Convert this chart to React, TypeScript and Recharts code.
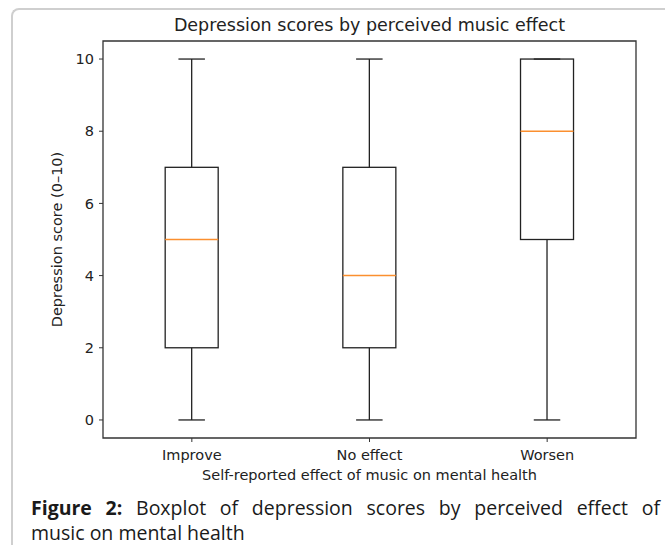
import React from "react";
import {
  ComposedChart,
  Bar,
  XAxis,
  YAxis,
  ReferenceArea,
} from "recharts";

const categories = ["Improve", "No effect", "Worsen"];
const whiskerLow = [0, 0, 0];
const quartile1 = [2, 2, 5];
const medians = [5, 4, 8];
const quartile3 = [7, 7, 10];
const whiskerHigh = [10, 10, 10];
const yTicks = [0, 2, 4, 6, 8, 10];

const data = categories.map((name, i) => ({
  name,
  min: whiskerLow[i],
  q1: quartile1[i],
  median: medians[i],
  q3: quartile3[i],
  max: whiskerHigh[i],
}));

const FONT = "'DejaVu Sans', sans-serif";
const INK = "#222";
const MEDIAN = "#fb8f2f";
const AXIS_FS = 14.5;

// draws one box + whiskers inside the bar slot (bar spans min..max)
const BoxShape = (props: any) => {
  const { x, y, width, height, payload } = props;
  const { min, q1, median, q3, max } = payload;
  const perUnit = height / (max - min);
  const py = (v: number) => y + (max - v) * perUnit;
  const cx = x + width / 2;
  const capHalf = width / 4;
  return (
    <g>
      <line x1={cx} x2={cx} y1={py(max)} y2={py(q3)} stroke={INK} strokeWidth={1.3} />
      <line x1={cx} x2={cx} y1={py(q1)} y2={py(min)} stroke={INK} strokeWidth={1.3} />
      <line x1={cx - capHalf} x2={cx + capHalf} y1={py(max)} y2={py(max)} stroke={INK} strokeWidth={1.3} />
      <line x1={cx - capHalf} x2={cx + capHalf} y1={py(min)} y2={py(min)} stroke={INK} strokeWidth={1.3} />
      <rect
        x={x}
        y={py(q3)}
        width={width}
        height={py(q1) - py(q3)}
        fill="none"
        stroke={INK}
        strokeWidth={1.3}
      />
      <line x1={x} x2={x + width} y1={py(median)} y2={py(median)} stroke={MEDIAN} strokeWidth={1.5} />
    </g>
  );
};

const captionFont: React.CSSProperties = {
  fontFamily: "'Open Sans', sans-serif",
  fontSize: 19.5,
  lineHeight: "24px",
  color: "#1a1a1a",
  whiteSpace: "nowrap",
};

export default function App() {
  return (
    <div
      style={{
        position: "absolute",
        left: 0,
        top: 0,
        width: 665,
        height: 545,
        overflow: "hidden",
        background: "#fff",
      }}
    >
      <div
        style={{
          position: "absolute",
          left: 11,
          top: 8,
          width: 720,
          height: 600,
          borderTop: "2px solid #cfcfcf",
          borderLeft: "2px solid #cfcfcf",
          borderTopLeftRadius: 8,
        }}
      />
      <div
        style={{
          position: "absolute",
          left: 103,
          top: 17,
          width: 533,
          textAlign: "center",
          fontFamily: FONT,
          fontSize: 17.5,
          lineHeight: "17.5px",
          color: INK,
          whiteSpace: "nowrap",
        }}
      >
        Depression scores by perceived music effect
      </div>
      <div style={{ position: "absolute", left: 0, top: 0 }}>
        <ComposedChart
          width={665}
          height={500}
          data={data}
          margin={{ top: 41, right: 29, bottom: 12, left: 43 }}
          barCategoryGap="35%"
        >
          <XAxis
            dataKey="name"
            height={50}
            axisLine={false}
            tickSize={4}
            tickMargin={8}
            tickLine={{ stroke: "#333" }}
            tick={{ fontSize: AXIS_FS, fill: INK, fontFamily: FONT }}
            interval={0}
            label={{
              value: "Self-reported effect of music on mental health",
              position: "insideBottom",
              offset: 8,
              fontSize: AXIS_FS,
              fill: INK,
              fontFamily: FONT,
            }}
          />
          <YAxis
            type="number"
            domain={[-0.5, 10.5]}
            ticks={yTicks}
            width={60}
            axisLine={false}
            tickSize={4}
            tickMargin={5}
            tickLine={{ stroke: "#333" }}
            tick={{ fontSize: AXIS_FS, fill: INK, fontFamily: FONT }}
            label={{
              value: "Depression score (0–10)",
              angle: -90,
              position: "insideLeft",
              offset: 14,
              fontSize: AXIS_FS,
              fill: INK,
              fontFamily: FONT,
              style: { textAnchor: "middle" },
            }}
          />
          <ReferenceArea
            y1={-0.5}
            y2={10.5}
            fill="none"
            stroke="#333"
            strokeWidth={1.3}
            ifOverflow="visible"
          />
          <Bar
            dataKey={(d: any) => [d.min, d.max]}
            shape={BoxShape}
            isAnimationActive={false}
          />
        </ComposedChart>
      </div>
      <div
        style={{
          ...captionFont,
          position: "absolute",
          left: 31,
          top: 496,
          width: 629,
          textAlign: "justify",
          textAlignLast: "justify",
        }}
      >
        <b>Figure 2:</b> Boxplot of depression scores by perceived effect of
      </div>
      <div
        style={{
          ...captionFont,
          position: "absolute",
          left: 31,
          top: 521,
        }}
      >
        music on mental health
      </div>
    </div>
  );
}
